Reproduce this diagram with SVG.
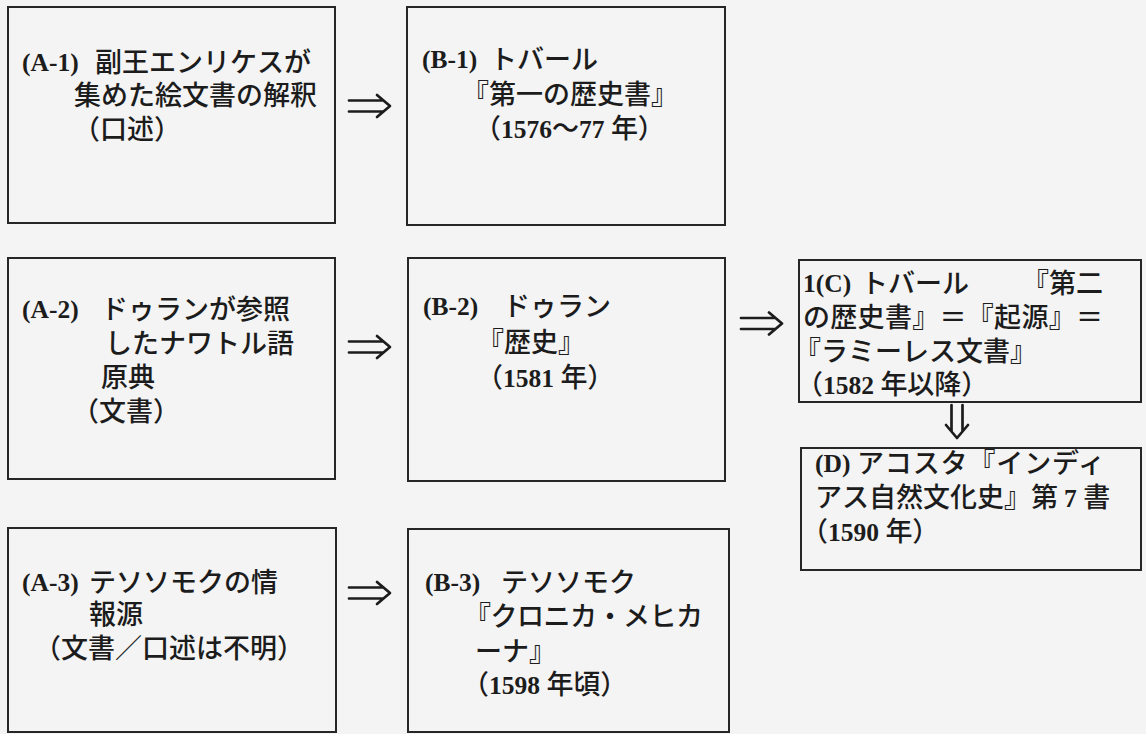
<svg xmlns="http://www.w3.org/2000/svg" width="1146" height="734" viewBox="0 0 1146 734">
<style>
.box{fill:none;stroke:#262626;stroke-width:2}
.t{font-family:"Noto Sans CJK JP","Noto Sans CJK SC",sans-serif;font-size:27px;fill:#1c1c1c;font-weight:500}
.l{font-family:"Liberation Serif",serif;font-size:25.5px;font-weight:bold}
.arr{fill:none;stroke:#1c1c1c;stroke-width:2.7;stroke-linecap:round;stroke-linejoin:round}
</style>
<rect x="0" y="0" width="1146" height="734" fill="#f4f4f4"/>
<g id="A1">
<rect class="box" x="8" y="7" width="327" height="216"/>
<text class="t"><tspan class="l" x="22" y="71">(A-1)</tspan><tspan x="95" y="72">副王エンリケスが</tspan><tspan x="74" y="105">集めた絵文書の解釈</tspan><tspan x="73" y="139">（口述）</tspan></text>
</g>
<g id="B1">
<rect class="box" x="407" y="7" width="318" height="218"/>
<text class="t"><tspan class="l" x="422" y="68">(B-1)</tspan><tspan x="490" y="69">トバール</tspan><tspan x="462" y="104">『第一の歴史書』</tspan><tspan x="474" y="138">（<tspan class="l">1576</tspan>〜<tspan class="l">77 </tspan>年）</tspan></text>
</g>
<g id="A2">
<rect class="box" x="8" y="258" width="327" height="221"/>
<text class="t"><tspan class="l" x="22" y="318">(A-2)</tspan><tspan x="101" y="319">ドゥランが参照</tspan><tspan x="105" y="353">したナワトル語</tspan><tspan x="101" y="387">原典</tspan><tspan x="72" y="421">（文書）</tspan></text>
</g>
<g id="B2">
<rect class="box" x="408" y="258" width="317" height="223"/>
<text class="t"><tspan class="l" x="423" y="315">(B-2)</tspan><tspan x="503" y="316">ドゥラン</tspan><tspan x="477" y="352">『歴史』</tspan><tspan x="476" y="387">（<tspan class="l">1581 </tspan>年）</tspan></text>
</g>
<g id="C">
<rect class="box" x="799" y="260" width="342" height="142"/>
<text class="t"><tspan class="l" x="803" y="292">1(C)</tspan><tspan x="861" y="293">トバール</tspan><tspan x="1022" y="293">『第二</tspan><tspan x="803" y="327" textLength="300" lengthAdjust="spacing">の歴史書』＝『起源』＝</tspan><tspan x="794" y="361">『ラミーレス文書』</tspan><tspan x="796" y="394">（<tspan class="l">1582 </tspan>年以降）</tspan></text>
</g>
<g id="D">
<rect class="box" x="801" y="448" width="340" height="122"/>
<text class="t"><tspan class="l" x="815" y="472">(D)</tspan><tspan x="857" y="473" textLength="248" lengthAdjust="spacing">アコスタ『インディ</tspan><tspan x="815" y="507">アス自然文化史』第 <tspan class="l">7 </tspan>書</tspan><tspan x="801" y="541">（<tspan class="l">1590 </tspan>年）</tspan></text>
</g>
<g id="A3">
<rect class="box" x="8" y="528" width="328" height="204"/>
<text class="t"><tspan class="l" x="22" y="591">(A-3)</tspan><tspan x="89" y="592">テソソモクの情</tspan><tspan x="89" y="624">報源</tspan><tspan x="34" y="658">（文書／口述は不明）</tspan></text>
</g>
<g id="B3">
<rect class="box" x="408" y="529" width="321" height="203"/>
<text class="t"><tspan class="l" x="425" y="591">(B-3)</tspan><tspan x="501" y="592">テソソモク</tspan><tspan x="464" y="626" textLength="239" lengthAdjust="spacing">『クロニカ・メヒカ</tspan><tspan x="475" y="661">ーナ』</tspan><tspan x="462" y="694">（<tspan class="l">1598 </tspan>年頃）</tspan></text>
</g>
<g id="connectors">
<path class="arr" d="M349,100.5 H383 M349,111.5 H383 M377,95 L390,106 L377,117"/>
<path class="arr" d="M349,341.5 H383 M349,352.5 H383 M377,336 L390,347 L377,358"/>
<path class="arr" d="M741,318 H775 M741,329 H775 M769,312.5 L782,323.5 L769,334.5"/>
<path class="arr" d="M349,587.5 H383 M349,598.5 H383 M377,582 L390,593 L377,604"/>
<path class="arr" d="M951.5,405 V431 M962.5,405 V431 M946,425 L957,438 L968,425"/>
</g>
</svg>
